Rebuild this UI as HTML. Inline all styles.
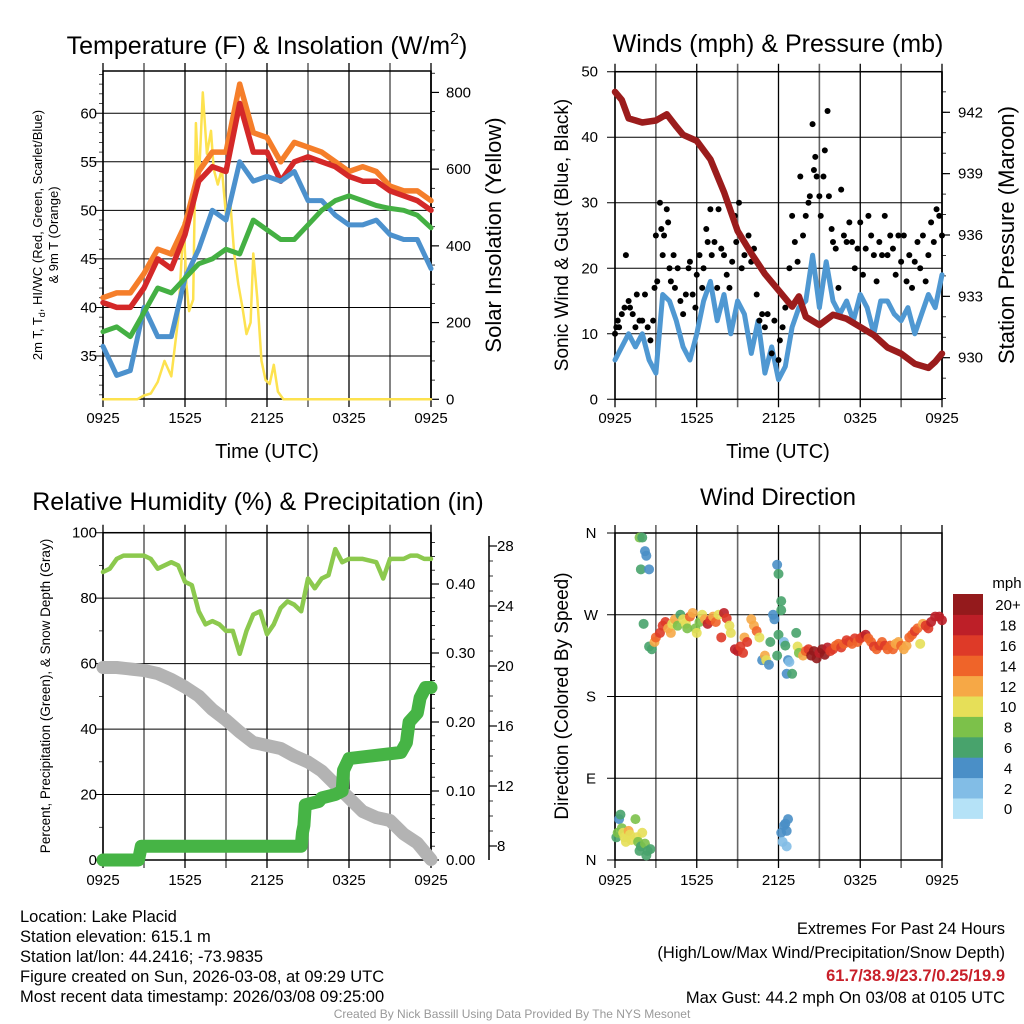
<!DOCTYPE html>
<html><head><meta charset="utf-8"><style>
html,body{margin:0;padding:0;background:#fff;}
svg{display:block;font-family:"Liberation Sans",Arial,sans-serif;}
</style></head><body>
<svg id="chart" width="1024" height="1024" viewBox="0 0 1024 1024" xmlns="http://www.w3.org/2000/svg">
<g fill="#000">
<text x="267" y="54" font-size="25" text-anchor="middle">Temperature (F) &amp; Insolation (W/m<tspan dy="-10" font-size="16">2</tspan><tspan dy="10">)</tspan></text>
<text x="778" y="52" font-size="25" text-anchor="middle">Winds (mph) &amp; Pressure (mb)</text>
<text x="258" y="510" font-size="25" text-anchor="middle">Relative Humidity (%) &amp; Precipitation (in)</text>
<text x="778" y="505" font-size="24" text-anchor="middle">Wind Direction</text>
<text x="267" y="458" font-size="20" text-anchor="middle">Time (UTC)</text>
<text x="778" y="458" font-size="20" text-anchor="middle">Time (UTC)</text>
<text transform="translate(42,235) rotate(-90)" font-size="13" text-anchor="middle">2m T, T<tspan dy="3" font-size="9">d</tspan><tspan dy="-3">, HI/WC (Red, Green, Scarlet/Blue)</tspan></text>
<text transform="translate(58,235) rotate(-90)" font-size="13" text-anchor="middle">&amp; 9m T (Orange)</text>
<text transform="translate(501,235) rotate(-90)" font-size="22" text-anchor="middle">Solar Insolation (Yellow)</text>
<text transform="translate(568,235) rotate(-90)" font-size="19" text-anchor="middle">Sonic Wind &amp; Gust (Blue, Black)</text>
<text transform="translate(1014,235) rotate(-90)" font-size="22" text-anchor="middle">Station Pressure (Maroon)</text>
<text transform="translate(50,696) rotate(-90)" font-size="13.5" text-anchor="middle">Percent, Precipitation (Green), &amp; Snow Depth (Gray)</text>
<text transform="translate(568,696) rotate(-90)" font-size="19" text-anchor="middle">Direction (Colored By Speed)</text>
</g>
<g font-size="16.5" fill="#000">
<text x="20" y="922">Location: Lake Placid</text>
<text x="20" y="942">Station elevation: 615.1 m</text>
<text x="20" y="962">Station lat/lon: 44.2416; -73.9835</text>
<text x="20" y="982">Figure created on Sun, 2026-03-08, at 09:29 UTC</text>
<text x="20" y="1002">Most recent data timestamp: 2026/03/08 09:25:00</text>
</g>
<g font-size="16.5" fill="#000" text-anchor="end">
<text x="1005" y="934">Extremes For Past 24 Hours</text>
<text x="1005" y="958">(High/Low/Max Wind/Precipitation/Snow Depth)</text>
<text x="1005" y="981" fill="#c8202a" font-weight="bold">61.7/38.9/23.7/0.25/19.9</text>
<text x="1005" y="1003">Max Gust: 44.2 mph On 03/08 at 0105 UTC</text>
</g>
<text x="512" y="1018" font-size="12" fill="#999" text-anchor="middle">Created By Nick Bassill Using Data Provided By The NYS Mesonet</text>
</svg>
<script>
// ---------- DATA ----------
const hoursHourly = [0,1,2,3,4,5,6,7,8,9,10,11,12,13,14,15,16,17,18,19,20,21,22,23,24];
const tempRed    = [40.5,40,40,42,45,44,47.5,53,54.5,54,61,56,56,53,55,55.5,55,54.5,53.5,53,53,52,51.5,51,50];
const tempOrange = [41,41.5,41.5,43.5,46,45.5,48.5,54,56,56,63,58,57.5,55,57,56.5,56,55,54,54.5,54,52.5,52,52,51];
const tempGreen  = [37.5,38,37,39.5,42,41.5,43,44.5,45,46,45.5,49,48,47,47,48.5,50,51,51.5,51,50.5,50.2,50,49.5,48.2];
const tempBlue   = [36,33,33.5,40,37,37,43,46,50,49,55,53,53.5,53,54,51,51,49.5,48.5,48.5,49,47.5,47,47,44];
const solarHours = [0,2.5,3,3.5,4,4.5,5,5.5,5.9,6.1,6.3,6.6,6.8,7,7.3,7.6,7.9,8.1,8.4,8.7,9,9.3,9.6,9.9,10.2,10.5,10.8,11,11.3,11.6,11.9,12.2,12.5,12.8,13.2,14,24];
const solarVals  = [0,0,10,15,45,100,60,210,460,300,230,260,720,560,800,640,700,600,560,600,480,520,380,300,240,170,200,380,260,100,50,40,90,20,0,0,0];
const windHours = [0,0.5,1,1.5,2,2.5,3,3.5,4,4.5,5,5.5,6,6.5,7,7.5,8,8.5,9,9.5,10,10.5,11,11.5,12,12.5,13,13.5,14,14.5,15,15.5,16,16.5,17,17.5,18,18.5,19,19.5,20,20.5,21,21.5,22,22.5,23,23.5,24];
const windSpeed = [6,8,10,8,10,6,4,16,15,12,8,6,10,15,18,12,16,10,15,13,7,12,4,8,3,5,11,14,15,22,14,21,15,13,15,12,16,14,10,15,15,13,12,14,10,13,16,14,19];
const gustHours = [0,0.1,0.2,0.3,0.5,0.7,0.8,1,1.1,1.3,1.5,1.6,1.8,2,2.2,2.4,2.6,2.8,2.9,3,3.1,3.3,3.4,3.5,3.6,3.8,3.9,4,4.1,4.3,4.4,4.6,4.8,5,5.2,5.4,5.5,5.7,5.9,6,6.2,6.4,6.5,6.7,6.8,7,7.1,7.3,7.5,7.6,7.8,8,8.2,8.4,8.6,8.8,8.9,9.1,9.3,9.5,9.8,10,10.2,10.4,10.6,10.8,11,11.2,11.5,11.7,12,12.1,12.3,12.5,12.8,13,13.2,13.4,13.6,13.8,14,14.2,14.3,14.5,14.6,14.7,14.8,15,15.1,15.3,15.4,15.6,15.7,15.9,16,16.2,16.4,16.6,16.8,17,17.2,17.4,17.6,17.8,18,18.2,18.4,18.6,18.8,19,19.2,19.4,19.6,19.8,20,20.2,20.4,20.6,20.8,21,21.2,21.4,21.6,21.8,22,22.2,22.4,22.6,22.8,23,23.2,23.4,23.6,23.8,24];
const gustVals  = [10,11,12,11,13,14,22,15,14,13,11,16,12,12,16,11,9,12,17,25,18,30,26,22,25,29,27,20,18,22,17,20,15,13,16,20,21,16,14,19,22,17,20,26,24,29,22,24,17,29,23,22,19,17,21,28,24,30,20,22,25,21,23,16,12,13,11,13,7,12,6,9,11,14,20,28,24,21,34,25,28,30,31,42,35,37,34,31,28,34,38,44,31,26,24,23,17,32,25,24,27,24,20,23,27,19,23,28,25,22,18,24,22,28,22,25,23,19,25,21,25,18,22,17,21,24,20,25,18,22,27,24,29,28,25];
const presHours = [0,0.5,1,2,3,3.8,4.5,5,6,7,8,9,10,11,12,13,13.5,14,15,16,17,18,19,20,21,22,23,23.5,24];
const presVals  = [943,942.6,941.7,941.5,941.6,941.9,941.3,940.9,940.6,939.7,938.1,936.2,935.1,934.1,933.3,932.5,933,932,931.6,932.1,931.9,931.5,931.1,930.5,930.2,929.7,929.5,929.8,930.2];
const rhHours = [0,0.5,1,1.5,2,3,3.5,4,5,5.5,6,6.5,7,7.5,8,8.5,9,9.5,10,10.5,11,11.5,12,12.5,13,13.5,14,14.5,15,15.5,16,16.5,17,17.5,18,19,20,20.5,21,22,22.5,23,23.5,24];
const rhVals  = [88,89,92,93,93,93,92,89,91,90,85,84,76,72,73,72,70,70,63,70,75,76,69,72,77,79,78,76,86,83,86,87,95,91,92,92,91,86,92,92,93,93,92,92];
const precipHours = [0,2.6,2.8,14.5,14.6,14.7,14.8,15.8,16,17,17.5,17.6,18,21.8,22.2,22.4,23,23.2,23.6,24];
const precipVals  = [0,0,0.02,0.02,0.04,0.05,0.08,0.085,0.09,0.095,0.10,0.13,0.147,0.156,0.17,0.20,0.213,0.235,0.25,0.25];
const snowVals = [19.9,19.9,19.8,19.7,19.5,19.1,18.6,18.0,17.1,16.4,15.6,14.9,14.7,14.5,14.0,13.6,13.0,12.1,11.2,10.3,9.9,9.7,8.8,8.2,7.1];
const dirHours = [
 0.1,0.2,0.3,0.4,0.5,0.6,0.7,0.8,1.0,1.1,1.2,1.5,1.6,1.7,1.8,1.9,2.0,2.2,2.3,2.4,2.6,
 1.8,2.0,2.2,2.3,1.9,2.5,2.1,
 2.5,2.7,2.9,3.0,3.3,3.5,3.7,3.9,4.1,4.2,
 4.4,4.6,4.8,5.0,5.2,5.3,5.5,5.7,5.9,6.0,
 6.2,6.4,6.6,6.8,7.0,7.2,7.4,7.6,7.8,8.0,
 8.2,8.4,8.5,8.8,9.0,9.2,9.4,9.5,9.7,10.0,
 10.2,10.4,10.6,10.8,11.0,11.1,11.3,11.4,11.6,11.7,
 11.9,12.0,11.9,12.0,12.2,12.2,12.4,12.5,12.7,12.8,
 12.6,13.0,13.3,13.4,13.5,13.8,14,14.2,14.4,14.6,
 14.8,15,15.2,15.4,15.6,15.8,16,16.2,16.4,16.6,
 16.8,17,17.2,17.4,17.6,17.8,18,18.2,18.4,18.6,
 18.8,19,19.2,19.4,19.6,19.8,20,20.2,20.4,20.6,
 20.8,21,21.2,21.4,21.6,21.8,22,22.2,22.4,22.6,
 22.8,23.0,23.2,23.5,23.8,24,
 12.2,12.4,12.5,12.6,12.7,12.3,12.6];
const dirDeg = [
 25,30,45,50,35,30,25,20,32,28,22,45,25,20,10,15,30,18,5,10,12,
 355,355,340,335,320,320,260,
 235,232,240,245,250,258,262,255,250,260,
 265,258,270,265,260,255,268,272,255,250,
 262,270,265,260,264,268,262,270,245,272,
 266,258,250,232,230,235,228,245,240,265,
 258,252,245,220,225,220,215,240,270,265,
 225,248,325,315,285,275,240,236,220,218,
 205,205,250,235,228,225,230,232,225,230,
 222,228,232,226,234,230,232,236,238,234,
 238,242,240,238,244,240,244,246,248,244,
 240,235,232,236,240,236,232,236,232,238,
 240,236,232,236,245,248,252,255,238,260,
 258,255,262,268,268,264,
 30,38,40,32,45,20,15];
const dirSpeed = [
 6,7,4,6,8,9,10,10,12,10,10,8,10,8,6,6,10,8,6,6,6,
 8,6,4,4,6,3,6,
 6,6,12,14,16,16,16,12,12,10,
 12,8,6,10,10,8,14,12,8,10,
 8,10,12,18,16,12,14,10,16,18,
 16,10,10,18,18,16,16,12,16,12,
 12,14,10,4,12,10,4,6,4,4,
 6,6,4,6,6,6,2,6,4,2,
 4,6,6,10,8,12,14,16,20,20,
 20,18,20,20,18,16,16,14,14,16,
 14,16,16,14,16,14,16,16,18,14,
 14,16,14,16,14,16,14,14,14,12,
 12,14,12,12,14,14,16,14,10,12,
 16,16,18,18,18,18,
 4,4,4,4,4,2,2];
const colorLevels = ['0','2','4','6','8','10','12','14','16','18','20+'];
const colorFills = ['#b5e2f7','#82bde6','#4a8fc7','#48a36c','#7cc14a','#e6df58','#f6a846','#ef6429','#de3a28','#bd1f28','#941a1c'];
const tempTicks = [35,40,45,50,55,60];
const solarTicks = [0,200,400,600,800];
const windTicks = [0,10,20,30,40,50];
const presTicks = [930,933,936,939,942];
const rhTicks = [0,20,40,60,80,100];
const precipTicks = [0.00,0.10,0.20,0.30,0.40];
const snowTicks = [8,12,16,20,24,28];
const dirTicks = ['N','E','S','W','N'];
const timeTicks = ['0925','1525','2125','0325','0925'];

// ---------- AXES ----------
const X1 = h => 103 + h*328/24;
const X2 = h => 615 + h*327/24;
const YT = v => 356 - (v-35)*9.71;
const YS = w => 399.3 - w*0.3836;
const YW = v => 399.3 - v*6.552;
const YP = p => 357.7 - (p-930)*20.45;
const YL = v => 860 - v*3.273;
const YPr = p => 860 - p*690;
const YSn = s => 846 - (s-8)*15;
const YD = d => 860 - d*0.9083;
const spdColor = s => colorFills[Math.min(10, Math.max(0, Math.round((s||0)/2)))];

const NS = 'http://www.w3.org/2000/svg';
const svg = document.getElementById('chart');
function mk(tag, attrs, parent){ const e=document.createElementNS(NS,tag); for(const k in attrs) e.setAttribute(k,attrs[k]); (parent||svg).appendChild(e); return e; }
function pathFrom(xs, ys){ return xs.map((x,i)=>(i?'L':'M')+x.toFixed(1)+','+ys[i].toFixed(1)).join(''); }

function frame(x0,y0,x1,y1,name){
  const g = mk('g',{});
  
  
  for(let k=0;k<=8;k++){
    const x = x0 + k*(x1-x0)/8;
    const l = mk('line',{x1:x,x2:x,y1:y0-8,y2:y1+8,stroke:(k%2===0)?'#000':'#666','stroke-width':(k%2===0)?1.3:1.6},g);
    
    
  }
  const r = mk('rect',{x:x0,y:y0,width:x1-x0,height:y1-y0,fill:'none',stroke:'#000','stroke-width':1.5},g);
  
  
  return g;
}
function hgrid(g,x0,x1,y){
  const l = mk('line',{x1:x0-8,x2:x1,y1:y,y2:y,stroke:'#000','stroke-width':1},g);
  
  
}
function label(g,x,y,t,anchor,size){
  const e = mk('text',{x:x,y:y,'font-size':size||15,'text-anchor':anchor||'middle'},g);
  e.textContent = t;
  
  
  return e;
}
function rightAxis(g,x,vals,Y,fmt,minorStep,yTop,yBot,labelX){
  const ax = mk('line',{x1:x,x2:x,y1:yTop,y2:yBot,stroke:'#000','stroke-width':1.5},g);
  
  
  vals.forEach(v=>{
    const t = mk('line',{x1:x,x2:x+8,y1:Y(v),y2:Y(v),stroke:'#000','stroke-width':1.2},g);
    
    
    label(g,labelX||x+14,Y(v)+5,fmt(v),'start');
  });
  if(minorStep){
    for(let v=vals[0]-minorStep*10; v<=vals[vals.length-1]+minorStep*10; v+=minorStep){
      const y=Y(v); if(y<yTop||y>yBot) continue;
      const t = mk('line',{x1:x,x2:x+4,y1:y,y2:y,stroke:'#000','stroke-width':0.8},g);
      
      
    }
  }
}
function timeLabels(g,X,y){ timeTicks.forEach((t,i)=>label(g,X(i*6),y,t)); }
function line(g,xs,ys,color,w,name){
  const p = mk('path',{d:pathFrom(xs,ys),fill:'none',stroke:color,'stroke-width':w,'stroke-linejoin':'round','stroke-linecap':'round'},g);
  
  
  return p;
}

// ---------- PANEL 1 ----------
const g1 = frame(103,71,431,399,'temperature-panel');
tempTicks.forEach(v=>{hgrid(g1,103,431,YT(v)); label(g1,97,YT(v)+5,String(v),'end');});
for(let v=31;v<=64;v++){ if(v%5===0) continue; const t=mk('line',{x1:99,x2:103,y1:YT(v),y2:YT(v),stroke:'#000','stroke-width':0.7},g1);   }
rightAxis(g1,431,solarTicks,YS,v=>String(v),50,71,399,446);
timeLabels(g1,X1,423);
line(g1,solarHours.map(X1),solarVals.map(YS),'#fde24f',2.5,'solar-insolation-line');
line(g1,hoursHourly.map(X1),tempOrange.map(YT),'#f57e2a',5.5,'temp-9m-line');
line(g1,hoursHourly.map(X1),tempRed.map(YT),'#d42828',5.5,'temp-2m-line');
line(g1,hoursHourly.map(X1),tempBlue.map(YT),'#4c91cd',5,'heat-index-windchill-line');
line(g1,hoursHourly.map(X1),tempGreen.map(YT),'#44b043',5,'dewpoint-line');

// ---------- PANEL 2 ----------
const g2 = frame(615,71.7,942,399.3,'winds-panel');
windTicks.forEach(v=>{hgrid(g2,615,942,YW(v)); label(g2,598,YW(v)+5,String(v),'end');});
rightAxis(g2,942,presTicks,YP,v=>String(v),1,71.7,399.3,958);
timeLabels(g2,X2,423);
line(g2,windHours.map(X2),windSpeed.map(YW),'#4f98d2',5,'sonic-wind-line');
gustHours.forEach((h,i)=>{
  const c = mk('circle',{cx:X2(h),cy:YW(gustVals[i]),r:3,fill:'#000'},g2);
  
  
});
line(g2,presHours.map(X2),presVals.map(YP),'#9b1c1c',6.5,'pressure-line');

// ---------- PANEL 3 ----------
const g3 = frame(103,532.7,431,860,'humidity-panel');
rhTicks.forEach(v=>{hgrid(g3,103,431,YL(v)); label(g3,97,YL(v)+5,String(v),'end');});
for(let v=10;v<100;v+=20){ const t=mk('line',{x1:99,x2:103,y1:YL(v),y2:YL(v),stroke:'#000','stroke-width':0.7},g3);   }
rightAxis(g3,431,precipTicks,YPr,v=>v.toFixed(2),0.02,532.7,860,446);
rightAxis(g3,489,snowTicks,YSn,v=>String(v),1,536,860,497);
timeLabels(g3,X1,885);
line(g3,hoursHourly.map(X1),snowVals.map(YSn),'#b3b3b3',13,'snow-depth-line');
line(g3,precipHours.map(X1),precipVals.map(YPr),'#46b445',13,'precipitation-line');
line(g3,rhHours.map(X1),rhVals.map(YL),'#8cc94e',4.5,'relative-humidity-line');

// ---------- PANEL 4 ----------
const g4 = frame(615,533,942,860,'wind-direction-panel');
dirTicks.forEach((t,i)=>{hgrid(g4,615,942,YD(i*90)); label(g4,591,YD(i*90)+5,t,'middle',15);});
timeLabels(g4,X2,885);
dirHours.forEach((h,i)=>{
  const c = mk('circle',{cx:X2(h),cy:YD(dirDeg[i]),r:5,fill:spdColor(dirSpeed[i]),'fill-opacity':0.9},g4);
  
  
});
const cb = mk('g',{});


const cbTop = 594, cbH = 20.4;
colorLevels.forEach((lv,i)=>{
  const k = colorLevels.length-1-i;
  const r = mk('rect',{x:953,y:cbTop+k*cbH,width:30,height:cbH+0.5,fill:colorFills[i]},cb);
  
  
  label(cb,1008,cbTop+k*cbH+cbH/2+6,lv,'middle',15);
});
const mph = label(cb,1007,588,'mph','middle',15);

</script>
</body></html>
